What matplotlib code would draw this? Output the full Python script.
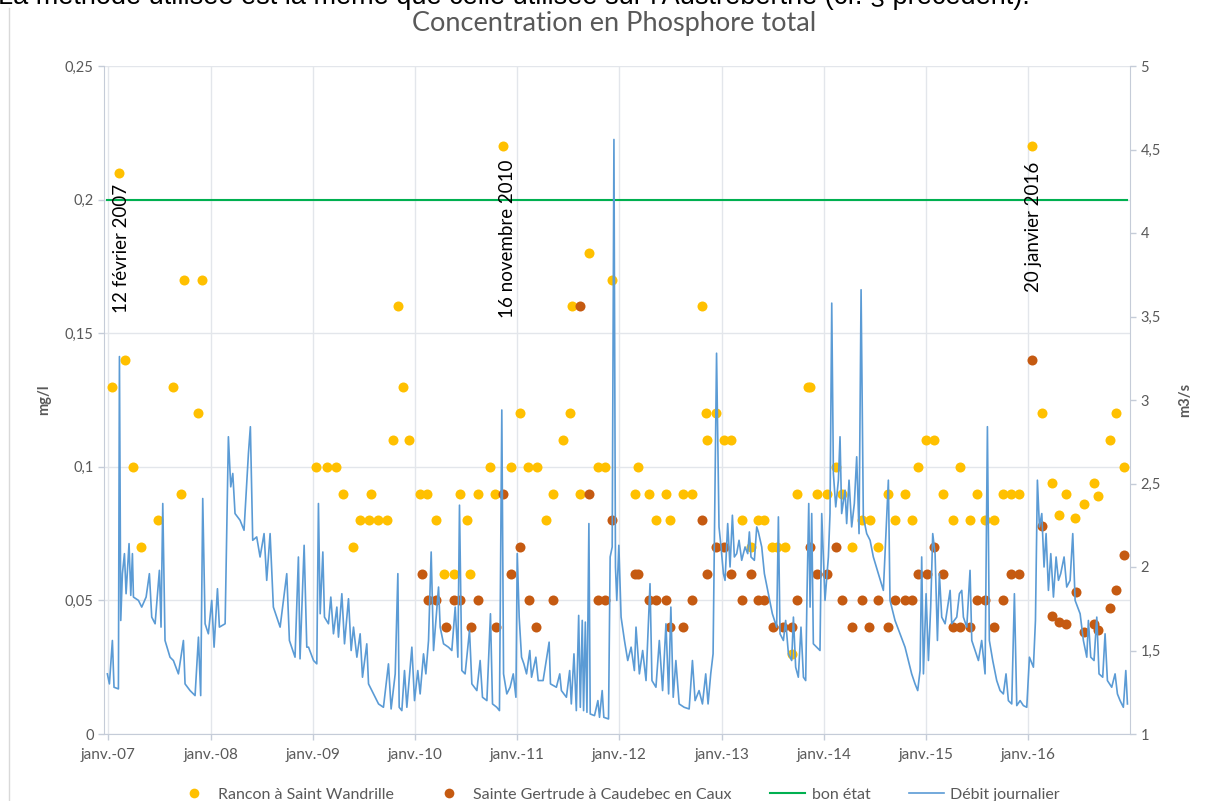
import matplotlib.pyplot as plt
from matplotlib.lines import Line2D

plt.rcParams['font.family'] = ['Lato', 'DejaVu Sans']

# Rancon à Saint Wandrille (date en années décimales, mg/l)
rancon_annee = [2007.032, 2007.107, 2007.162, 2007.244, 2007.316, 2007.482, 2007.629, 2007.71, 2007.743, 2007.88,
                2007.913, 2009.028, 2009.136, 2009.224, 2009.296, 2009.393, 2009.463, 2009.551, 2009.572, 2009.635,
                2009.723, 2009.788, 2009.831, 2009.886, 2009.941, 2010.049, 2010.114, 2010.208, 2010.281, 2010.378,
                2010.437, 2010.506, 2010.535, 2010.62, 2010.734, 2010.783, 2010.858, 2010.942, 2011.027, 2011.109,
                2011.191, 2011.282, 2011.353, 2011.451, 2011.52, 2011.533, 2011.618, 2011.706, 2011.794, 2011.859,
                2011.93, 2012.156, 2012.185, 2012.287, 2012.355, 2012.456, 2012.495, 2012.619, 2012.71, 2012.805,
                2012.847, 2012.86, 2012.948, 2013.027, 2013.092, 2013.203, 2013.285, 2013.356, 2013.418, 2013.493,
                2013.539, 2013.623, 2013.686, 2013.738, 2013.845, 2013.865, 2013.933, 2014.031, 2014.12, 2014.178,
                2014.273, 2014.377, 2014.452, 2014.527, 2014.625, 2014.697, 2014.795, 2014.863, 2014.922, 2015.0,
                2015.081, 2015.163, 2015.261, 2015.333, 2015.43, 2015.502, 2015.58, 2015.668, 2015.753, 2015.829,
                2015.913, 2016.037, 2016.135, 2016.233, 2016.304, 2016.367, 2016.461, 2016.549, 2016.644, 2016.686,
                2016.8, 2016.856, 2016.937]
rancon_p = [0.13, 0.21, 0.14, 0.10, 0.07, 0.08, 0.13, 0.09, 0.17, 0.12,
            0.17, 0.10, 0.10, 0.10, 0.09, 0.07, 0.08, 0.08, 0.09, 0.08,
            0.08, 0.11, 0.16, 0.13, 0.11, 0.09, 0.09, 0.08, 0.06, 0.06,
            0.09, 0.08, 0.06, 0.09, 0.10, 0.09, 0.22, 0.10, 0.12, 0.10,
            0.10, 0.08, 0.09, 0.11, 0.12, 0.16, 0.09, 0.18, 0.10, 0.10,
            0.17, 0.09, 0.10, 0.09, 0.08, 0.09, 0.08, 0.09, 0.09, 0.16,
            0.12, 0.11, 0.12, 0.11, 0.11, 0.08, 0.07, 0.08, 0.08, 0.07,
            0.07, 0.07, 0.03, 0.09, 0.13, 0.13, 0.09, 0.09, 0.10, 0.09,
            0.07, 0.08, 0.08, 0.07, 0.09, 0.08, 0.09, 0.08, 0.10, 0.11,
            0.11, 0.09, 0.08, 0.10, 0.08, 0.09, 0.08, 0.08, 0.09, 0.09,
            0.09, 0.22, 0.12, 0.094, 0.082, 0.09, 0.081, 0.086, 0.094, 0.089,
            0.11, 0.12, 0.10]

# Sainte Gertrude à Caudebec en Caux
gertrude_annee = [2010.072, 2010.124, 2010.208, 2010.3, 2010.385, 2010.443, 2010.548, 2010.62, 2010.79, 2010.858,
                  2010.942, 2011.027, 2011.115, 2011.187, 2011.353, 2011.618, 2011.706, 2011.794, 2011.859, 2011.93,
                  2012.155, 2012.185, 2012.287, 2012.355, 2012.456, 2012.495, 2012.625, 2012.71, 2012.805, 2012.86,
                  2012.948, 2013.027, 2013.092, 2013.203, 2013.285, 2013.356, 2013.418, 2013.506, 2013.604, 2013.686,
                  2013.738, 2013.865, 2013.933, 2014.031, 2014.12, 2014.178, 2014.273, 2014.377, 2014.445, 2014.527,
                  2014.625, 2014.697, 2014.795, 2014.863, 2014.922, 2015.007, 2015.081, 2015.169, 2015.261, 2015.333,
                  2015.43, 2015.502, 2015.58, 2015.668, 2015.753, 2015.829, 2015.913, 2016.037, 2016.135, 2016.233,
                  2016.304, 2016.367, 2016.47, 2016.549, 2016.644, 2016.686, 2016.8, 2016.856, 2016.937]
gertrude_p = [0.06, 0.05, 0.05, 0.04, 0.05, 0.05, 0.04, 0.05, 0.04, 0.09,
              0.06, 0.07, 0.05, 0.04, 0.05, 0.16, 0.09, 0.05, 0.05, 0.08,
              0.06, 0.06, 0.05, 0.05, 0.05, 0.04, 0.04, 0.05, 0.08, 0.06,
              0.07, 0.07, 0.06, 0.05, 0.06, 0.05, 0.05, 0.04, 0.04, 0.04,
              0.05, 0.07, 0.06, 0.06, 0.07, 0.05, 0.04, 0.05, 0.04, 0.05,
              0.04, 0.05, 0.05, 0.05, 0.06, 0.06, 0.07, 0.06, 0.04, 0.04,
              0.04, 0.05, 0.05, 0.04, 0.05, 0.06, 0.06, 0.14, 0.078, 0.044,
              0.042, 0.041, 0.053, 0.038, 0.041, 0.039, 0.047, 0.054, 0.067]

# seuil bon état
bon_etat_annee = [2006.99, 2016.97]
bon_etat = [0.2, 0.2]

# débit journalier (m3/s)
debit_annee = [2006.99, 2007.01, 2007.039, 2007.055, 2007.098, 2007.108, 2007.121, 2007.137, 2007.157, 2007.173,
               2007.202, 2007.219, 2007.235, 2007.245, 2007.294, 2007.326, 2007.369, 2007.401, 2007.424, 2007.457,
               2007.499, 2007.515, 2007.532, 2007.554, 2007.603, 2007.636, 2007.685, 2007.734, 2007.75, 2007.799,
               2007.848, 2007.881, 2007.903, 2007.923, 2007.946, 2007.978, 2008.011, 2008.034, 2008.067, 2008.086,
               2008.142, 2008.174, 2008.197, 2008.217, 2008.239, 2008.288, 2008.327, 2008.37, 2008.389, 2008.412,
               2008.451, 2008.484, 2008.523, 2008.549, 2008.582, 2008.614, 2008.68, 2008.745, 2008.771, 2008.826,
               2008.859, 2008.875, 2008.915, 2008.941,
               2008.958, 2009.007, 2009.039, 2009.055, 2009.072, 2009.098, 2009.114, 2009.153, 2009.176, 2009.202,
               2009.235, 2009.251, 2009.284, 2009.31, 2009.349, 2009.375, 2009.398, 2009.431, 2009.463, 2009.486,
               2009.528, 2009.545, 2009.594, 2009.643, 2009.691, 2009.74, 2009.766, 2009.806, 2009.832, 2009.845,
               2009.871, 2009.897, 2009.92, 2009.969, 2009.995, 2010.027, 2010.05, 2010.083, 2010.106, 2010.132,
               2010.158, 2010.181, 2010.23, 2010.246, 2010.279, 2010.327, 2010.36, 2010.393, 2010.419, 2010.435,
               2010.458, 2010.49, 2010.533, 2010.556, 2010.605, 2010.637, 2010.66, 2010.703, 2010.738, 2010.758,
               2010.8, 2010.826, 2010.849, 2010.866, 2010.898, 2010.93,
               2010.961, 2010.987, 2011.0, 2011.019, 2011.042, 2011.065, 2011.091, 2011.123, 2011.14, 2011.182,
               2011.205, 2011.253, 2011.312, 2011.325, 2011.383, 2011.416, 2011.432, 2011.481, 2011.513, 2011.529,
               2011.555, 2011.578, 2011.601, 2011.617, 2011.636, 2011.649, 2011.666, 2011.682, 2011.701, 2011.714,
               2011.756, 2011.789, 2011.805, 2011.831, 2011.847, 2011.893, 2011.909, 2011.929, 2011.946, 2011.961,
               2011.974, 2011.994, 2012.016, 2012.049, 2012.081, 2012.114, 2012.146, 2012.162, 2012.195, 2012.227,
               2012.26, 2012.299, 2012.318, 2012.357, 2012.39, 2012.422, 2012.455, 2012.481, 2012.503, 2012.526,
               2012.552, 2012.584, 2012.633, 2012.682, 2012.714, 2012.74, 2012.779, 2012.812, 2012.844, 2012.867,
               2012.893, 2012.916, 2012.95,
               2012.974, 2012.994, 2013.017, 2013.033, 2013.059, 2013.082, 2013.105, 2013.124, 2013.147, 2013.17,
               2013.196, 2013.229, 2013.255, 2013.271, 2013.287, 2013.32, 2013.343, 2013.359, 2013.392, 2013.418,
               2013.457, 2013.496, 2013.538, 2013.555, 2013.571, 2013.604, 2013.626, 2013.653, 2013.685, 2013.702,
               2013.724, 2013.75, 2013.776, 2013.8, 2013.822, 2013.835, 2013.852, 2013.865, 2013.881, 2013.897,
               2013.93, 2013.962, 2013.979, 2014.011, 2014.044, 2014.06, 2014.077, 2014.093, 2014.116, 2014.142,
               2014.158, 2014.174, 2014.207, 2014.223, 2014.246, 2014.272, 2014.298, 2014.321, 2014.344, 2014.364,
               2014.386, 2014.419, 2014.452, 2014.484, 2014.533, 2014.582, 2014.631, 2014.647, 2014.696, 2014.745,
               2014.794, 2014.827, 2014.859, 2014.892, 2014.918,
               2014.941, 2014.957, 2014.974, 2015.0, 2015.023, 2015.045, 2015.065, 2015.088, 2015.111, 2015.13,
               2015.153, 2015.186, 2015.235, 2015.251, 2015.3, 2015.326, 2015.349, 2015.365, 2015.398, 2015.43,
               2015.447, 2015.48, 2015.512, 2015.544, 2015.577, 2015.6, 2015.619, 2015.652, 2015.691, 2015.724,
               2015.756, 2015.782, 2015.805, 2015.838, 2015.864, 2015.887, 2015.92, 2015.952, 2015.985, 2016.011,
               2016.05, 2016.07, 2016.089, 2016.109, 2016.132, 2016.154, 2016.174, 2016.197, 2016.22, 2016.246,
               2016.272, 2016.295, 2016.317, 2016.35, 2016.376, 2016.409, 2016.435, 2016.458, 2016.507, 2016.539,
               2016.572, 2016.588, 2016.611, 2016.643, 2016.67, 2016.692, 2016.728, 2016.751, 2016.774, 2016.816,
               2016.849, 2016.872, 2016.898, 2016.93, 2016.954, 2016.97]
debit = [1.36, 1.30, 1.56, 1.28, 1.27, 3.26, 1.68, 1.96, 2.08, 1.84,
         2.14, 1.83, 2.08, 1.82, 1.80, 1.76, 1.82, 1.96, 1.70, 1.66,
         1.98, 1.64, 2.38, 1.56, 1.46, 1.44, 1.36, 1.56, 1.30, 1.26,
         1.23, 1.58, 1.23, 2.41, 1.66, 1.60, 1.80, 1.52, 1.87, 1.64,
         1.66, 2.78, 2.48, 2.56, 2.32, 2.28, 2.22, 2.68, 2.84, 2.16,
         2.18, 2.06, 2.20, 1.92, 2.20, 1.76, 1.64, 1.96, 1.56, 1.46,
         2.06, 1.45, 2.13, 1.52,
         1.52, 1.44, 1.42, 2.38, 1.72, 2.09, 1.70, 1.66, 1.82, 1.60,
         1.76, 1.58, 1.84, 1.54, 1.81, 1.50, 1.64, 1.46, 1.60, 1.34,
         1.54, 1.30, 1.24, 1.18, 1.16, 1.42, 1.15, 1.36, 1.96, 1.16,
         1.14, 1.38, 1.16, 1.52, 1.20, 1.38, 1.24, 1.48, 1.36, 1.56,
         2.09, 1.50, 1.88, 1.64, 1.54, 1.52, 1.50, 1.76, 1.46, 2.37,
         1.38, 1.36, 1.62, 1.30, 1.26, 1.44, 1.22, 1.20, 1.72, 1.18,
         1.16, 1.14, 2.94, 1.36, 1.24, 1.28,
         1.36, 1.22, 2.08, 1.70, 1.46, 1.42, 1.36, 1.50, 1.34, 1.46,
         1.32, 1.32, 1.55, 1.30, 1.28, 1.36, 1.26, 1.22, 1.38, 1.18,
         1.48, 1.14, 1.71, 1.16, 1.68, 1.14, 1.67, 1.13, 2.26, 1.12,
         1.11, 1.20, 1.10, 1.26, 1.10, 1.09, 2.06, 2.12, 4.56, 2.00,
         1.80, 2.13, 1.70, 1.56, 1.44, 1.52, 1.38, 1.64, 1.36, 1.50,
         1.32, 1.90, 1.32, 1.28, 1.56, 1.26, 1.66, 1.24, 1.76, 1.22,
         1.44, 1.18, 1.16, 1.15, 1.44, 1.20, 1.26, 1.18, 1.36, 1.18,
         1.36, 1.48, 3.28,
         2.24, 2.12, 1.96, 1.92, 2.26, 2.00, 2.31, 2.06, 2.08, 2.16,
         2.04, 2.12, 2.08, 2.21, 2.06, 2.04, 2.24, 2.21, 2.12, 1.96,
         1.84, 1.72, 1.64, 2.30, 1.60, 1.56, 1.68, 1.48, 1.44, 1.70,
         1.40, 1.34, 1.64, 1.34, 1.32, 1.84, 2.38, 1.76, 2.32, 1.54,
         1.52, 1.50, 2.32, 1.80, 2.06, 2.32, 3.58, 2.56, 2.36, 2.52,
         2.78, 2.32, 2.46, 2.26, 2.52, 2.24, 2.38, 2.66, 2.20, 3.66,
         2.30, 2.20, 2.16, 2.06, 1.96, 1.86, 2.52, 1.80, 1.68, 1.60,
         1.52, 1.44, 1.36, 1.30, 1.26,
         1.38, 2.06, 1.36, 1.84, 1.44, 1.76, 2.20, 2.08, 1.56, 1.96,
         1.70, 1.66, 1.86, 1.66, 1.70, 1.84, 1.86, 1.70, 1.64, 1.98,
         1.56, 1.50, 1.44, 1.56, 1.36, 2.84, 1.56, 1.44, 1.32, 1.26,
         1.24, 1.36, 1.20, 1.18, 1.84, 1.17, 1.20, 1.17, 1.16, 1.46,
         1.40, 1.68, 2.52, 2.24, 2.32, 2.00, 2.20, 1.86, 2.08, 1.82,
         2.06, 1.92, 1.96, 2.06, 1.88, 1.92, 2.20, 1.80, 1.72, 1.56,
         1.46, 1.68, 1.46, 1.44, 1.70, 1.36, 1.34, 1.60, 1.32, 1.28,
         1.36, 1.24, 1.20, 1.16, 1.38, 1.18]

annees = list(range(2007, 2017))
mois_labels = ['janv.-%02d' % (a % 100) for a in annees]
p_ticks = [0, 0.05, 0.1, 0.15, 0.2, 0.25]
q_ticks = [1, 1.5, 2, 2.5, 3, 3.5, 4, 4.5, 5]

evenements = [(2007.133, 0.1575, '12 février 2007'),
              (2010.90, 0.1557, '16 novembre 2010'),
              (2016.047, 0.1654, '20 janvier 2016')]

gris = '#595959'
axe_col = '#C5CCD8'
grid_col = '#E3E6EB'

fig = plt.figure(figsize=(12.05, 8.01), dpi=100)
ax = fig.add_axes([104 / 1205, 1 - 734 / 801, 1026 / 1205, 668 / 801])
ax2 = ax.twinx()

ax.set_xlim(2006.957, 2016.995)
ax.set_ylim(0, 0.25)
ax2.set_ylim(1, 5)

ax.set_xticks(annees)
ax.set_xticklabels(mois_labels)
ax.set_yticks(p_ticks)
ax.set_yticklabels([('%g' % v).replace('.', ',') for v in p_ticks])
ax2.set_yticks(q_ticks)
ax2.set_yticklabels([('%g' % v).replace('.', ',') for v in q_ticks])

ax.grid(True, color=grid_col, lw=1)
ax.set_axisbelow(True)
for s in ['top', 'right']:
    ax.spines[s].set_visible(False)
for s in ['top', 'left', 'bottom']:
    ax2.spines[s].set_visible(False)
ax.spines['left'].set_color(axe_col)
ax.spines['bottom'].set_color(axe_col)
ax2.spines['right'].set_color(axe_col)
ax.tick_params(colors=axe_col, labelcolor=gris, labelsize=10.5, length=4, width=1)
ax.tick_params(axis='x', labelsize=11, pad=6)
ax2.tick_params(colors=axe_col, labelcolor=gris, labelsize=10.5, length=4, width=1)

ax.scatter(rancon_annee, rancon_p, s=52, color='#FFC000', lw=0, zorder=3)
ax.scatter(gertrude_annee, gertrude_p, s=52, color='#C55A11', lw=0, zorder=3)
ax.plot(bon_etat_annee, bon_etat, color='#00B050', lw=1.5, zorder=2)
ax2.plot(debit_annee, debit, color='#5B9BD5', lw=1.2)

for x, y, t in evenements:
    ax.text(x, y, t, rotation=90, ha='center', va='bottom', fontsize=13.5, color='black', zorder=4)

ax.set_ylabel('mg/l', fontweight='bold', color=gris, fontsize=10.5)
ax.yaxis.set_label_coords(-0.052, 0.5)
ax2.set_ylabel('m3/s', fontweight='bold', color=gris, fontsize=10.5)
ax2.yaxis.set_label_coords(1.047, 0.5)

fig.text(614 / 1205, 1 - 23 / 801, 'Concentration en Phosphore total', ha='center', va='center',
         fontsize=19.5, color=gris)
fig.text(-0.002, 1 - 4 / 801, "La méthode utilisée est la même que celle utilisée sur l'Austreberthe (cf. § précédent).",
         ha='left', va='baseline', fontsize=19.5, color='black', family=['Liberation Sans', 'DejaVu Sans'])
fig.add_artist(Line2D([9 / 1205, 9 / 1205], [0, 1 - 8 / 801], transform=fig.transFigure, color='#D9D9D9', lw=1))

handles = [Line2D([], [], marker='o', ls='none', color='#FFC000', markersize=7, markeredgewidth=0),
           Line2D([], [], marker='o', ls='none', color='#C55A11', markersize=7, markeredgewidth=0),
           Line2D([], [], color='#00B050', lw=1.5),
           Line2D([], [], color='#5B9BD5', lw=1.2)]
labels = ['Rancon à Saint Wandrille', 'Sainte Gertrude à Caudebec en Caux', 'bon état', 'Débit journalier']
fig.legend(handles, labels, ncol=4, loc='center', bbox_to_anchor=(618 / 1205, 1 - 795 / 801), frameon=False,
           fontsize=11.5, labelcolor=gris, columnspacing=2.4, handlelength=2.2, handletextpad=0.4)

fig.savefig('out.png', dpi=100)
